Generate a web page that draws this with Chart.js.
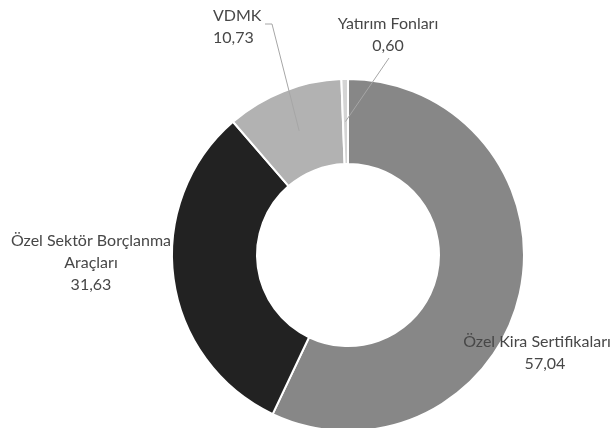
<!DOCTYPE html>
<html>
<head>
<meta charset="utf-8">
<script src="https://cdn.jsdelivr.net/npm/chart.js@4.4.1/dist/chart.umd.min.js"></script>
<style>
  html, body { margin: 0; padding: 0; background: #ffffff; }
  #wrap { width: 612px; height: 428px; position: relative; }
</style>
</head>
<body>
<div id="wrap"><canvas id="c" width="612" height="428"></canvas></div>
<script>
// ---- data ----
const categories = ['Özel Kira Sertifikaları', 'Özel Sektör Borçlanma Araçları', 'VDMK', 'Yatırım Fonları'];
const values = [57.04, 31.63, 10.73, 0.60];
const labelLines = [['Özel Kira Sertifikaları'], ['Özel Sektör Borçlanma', 'Araçları'], ['VDMK'], ['Yatırım Fonları']];

// ---- styles ----
const colors = ['#878787', '#222222', '#b2b2b2', '#d4d4d4'];
const FONT = '16px Lato, "Liberation Sans", sans-serif';
const TEXT_COLOR = '#474747';
const LINE_COLOR = '#a6a6a6';
const LINE_H = 22;
// label placement: x anchor, first-line middle y, alignment, value-line x, leader path start
const labelPlacement = [
  { x: 537, y: 342, align: 'center', valueX: 545, leader: null },
  { x: 91,  y: 241, align: 'center', leader: null },
  { x: 213, y: 16,  align: 'left',   leader: { from: [265, 24], elbow: [272, 24] } },
  { x: 388, y: 24,  align: 'center', leader: { from: [389, 58] } }
];

function fmt(v) { return v.toFixed(2).replace('.', ','); }

const labelPlugin = {
  id: 'outLabels',
  afterDatasetsDraw(chart) {
    const ctx = chart.ctx;
    const meta = chart.getDatasetMeta(0);
    ctx.save();
    meta.data.forEach((arc, i) => {
      const p = labelPlacement[i];
      const c = arc.getCenterPoint();
      if (p.leader) {
        ctx.strokeStyle = LINE_COLOR;
        ctx.lineWidth = 1;
        ctx.beginPath();
        ctx.moveTo(p.leader.from[0], p.leader.from[1]);
        if (p.leader.elbow) ctx.lineTo(p.leader.elbow[0], p.leader.elbow[1]);
        ctx.lineTo(c.x, c.y);
        ctx.stroke();
      }
      const lines = labelLines[i].concat([fmt(values[i])]);
      ctx.font = FONT;
      ctx.fillStyle = TEXT_COLOR;
      ctx.textBaseline = 'middle';
      ctx.textAlign = p.align;
      lines.forEach((t, k) => {
        const isValue = k === lines.length - 1;
        const x = (isValue && p.valueX !== undefined) ? p.valueX : p.x;
        ctx.fillText(t, x, p.y + k * LINE_H);
      });
    });
    ctx.restore();
  }
};

new Chart(document.getElementById('c'), {
  type: 'doughnut',
  data: {
    labels: categories,
    datasets: [{
      data: values,
      backgroundColor: colors,
      borderColor: '#ffffff',
      borderWidth: 2,
      radius: 176,
      hoverOffset: 0
    }]
  },
  options: {
    responsive: false,
    animation: false,
    cutout: '51.7%',
    rotation: 0,
    layout: { padding: { left: 84, right: 0, top: 82, bottom: 0 } },
    plugins: {
      legend: { display: false },
      tooltip: { enabled: false }
    }
  },
  plugins: [labelPlugin]
});
</script>
</body>
</html>
